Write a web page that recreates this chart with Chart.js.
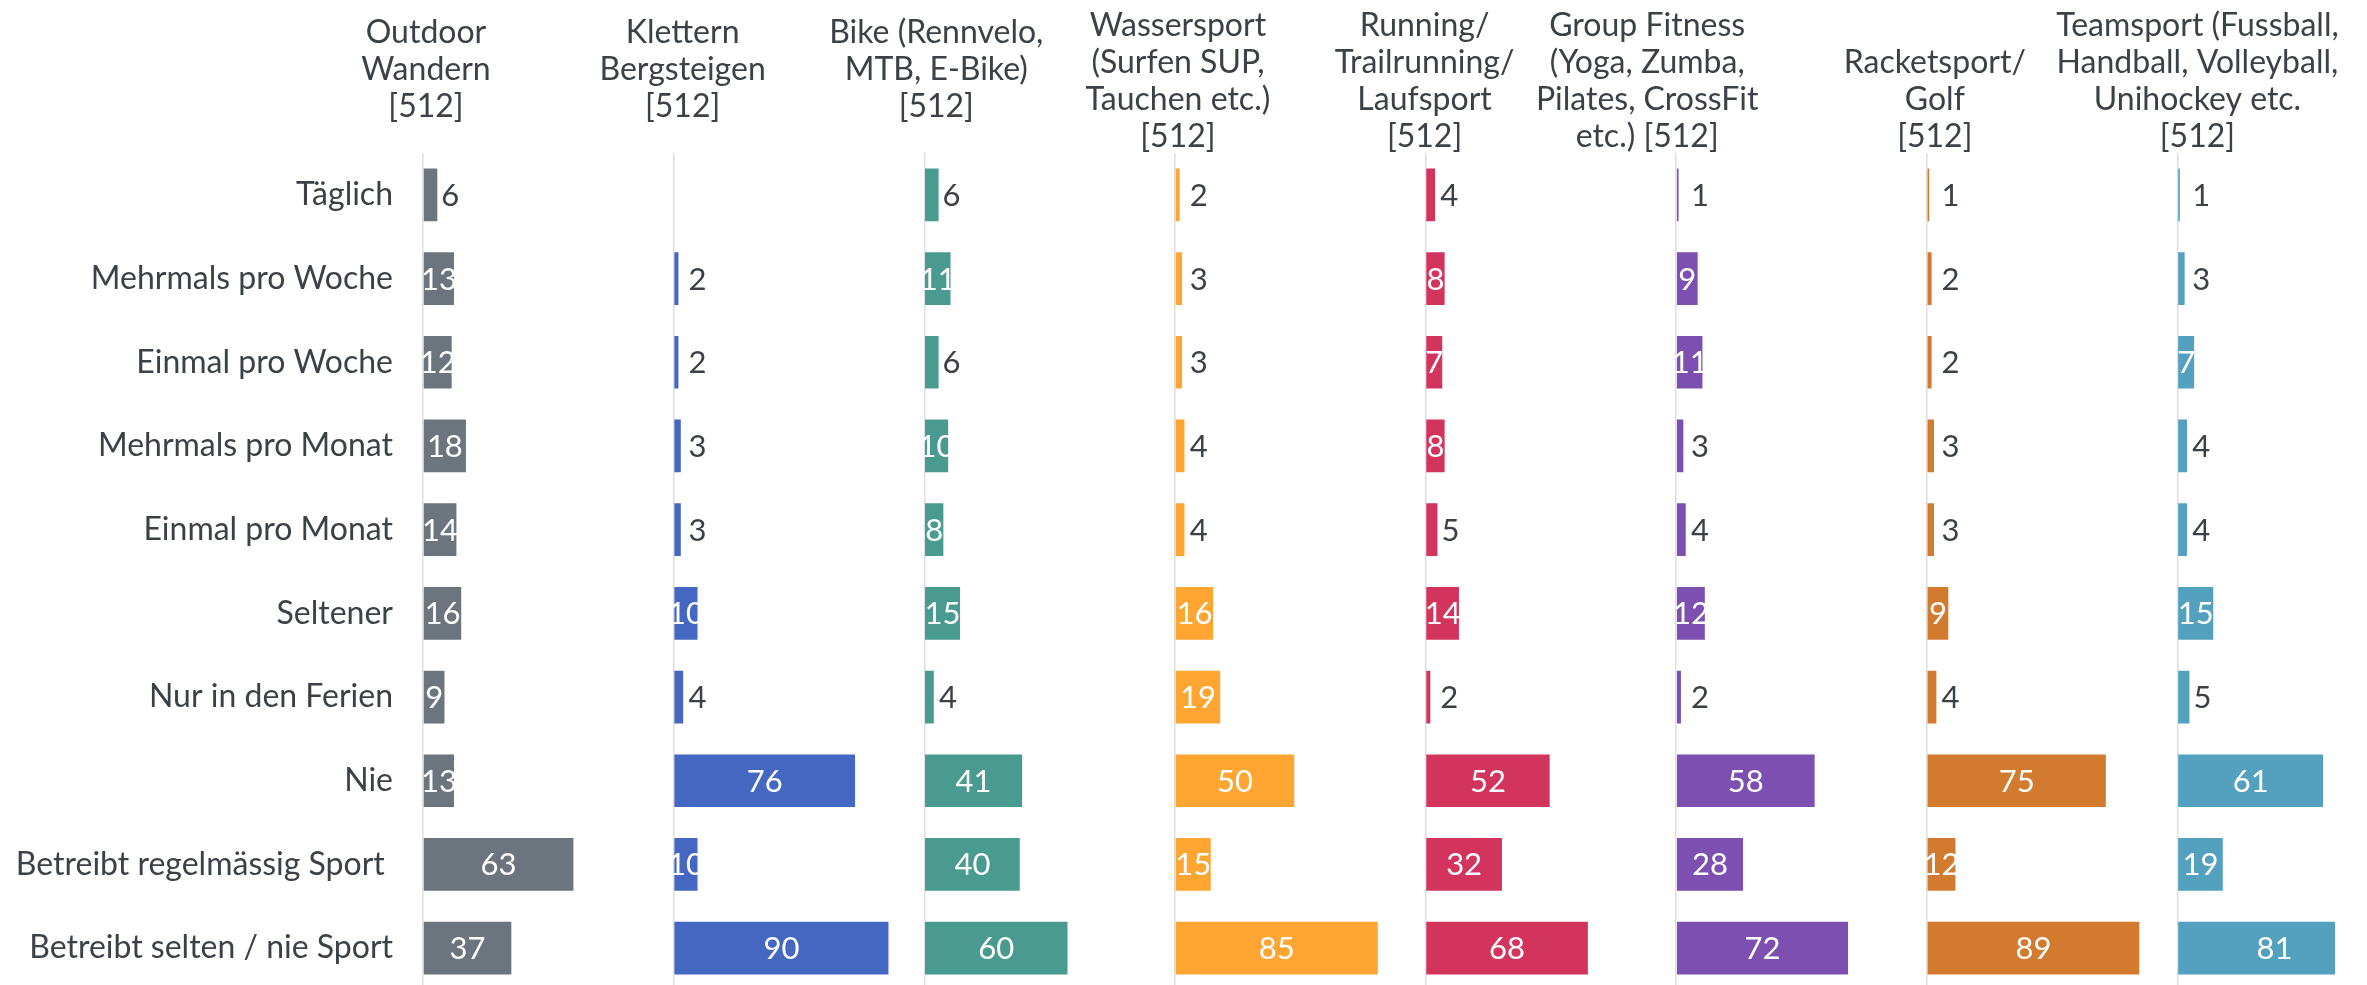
<!DOCTYPE html>
<html>
<head>
<meta charset="utf-8">
<title>Sportarten Häufigkeit</title>
<script src="https://cdn.jsdelivr.net/npm/chart.js@4/dist/chart.umd.min.js"></script>
<style>
  html, body { margin:0; padding:0; background:#fff; overflow:hidden; }
  #wrap { width:2367px; height:992px; }
</style>
</head>
<body>
<div id="wrap"><canvas id="chart" width="2367" height="992"></canvas></div>
<script>
// Data
const categories = ["Täglich","Mehrmals pro Woche","Einmal pro Woche","Mehrmals pro Monat","Einmal pro Monat","Seltener","Nur in den Ferien","Nie","Betreibt regelmässig Sport ","Betreibt selten / nie Sport"];
const panelHeaders = [
  ["Outdoor","Wandern","[512]"],
  ["Klettern","Bergsteigen","[512]"],
  ["Bike (Rennvelo,","MTB, E-Bike)","[512]"],
  ["Wassersport","(Surfen SUP,","Tauchen etc.)","[512]"],
  ["Running/","Trailrunning/","Laufsport","[512]"],
  ["Group Fitness","(Yoga, Zumba,","Pilates, CrossFit","etc.) [512]"],
  ["Racketsport/","Golf","[512]"],
  ["Teamsport (Fussball,","Handball, Volleyball,","Unihockey etc.","[512]"]
];
const outdoor    = [6,13,12,18,14,16,9,13,63,37];
const klettern   = [null,2,2,3,3,10,4,76,10,90];
const bike       = [6,11,6,10,8,15,4,41,40,60];
const wassersport= [2,3,3,4,4,16,19,50,15,85];
const running    = [4,8,7,8,5,14,2,52,32,68];
const groupFit   = [1,9,11,3,4,12,2,58,28,72];
const racket     = [1,2,2,3,3,9,4,75,12,89];
const teamsport  = [1,3,7,4,4,15,5,61,19,81];
const axisMax    = [105,105,105,105,105,105,105,66];

const seriesValues = [outdoor, klettern, bike, wassersport, running, groupFit, racket, teamsport];
const colors = ["#6c757d","#4467c1","#4a9b8f","#ffa532","#d3345e","#7c4fb1","#d27b2f","#53a0bf"];

const FONT = "Lato";
const FSIZE = 32;
const TEXT = "#3c4147";

// Scales: one x axis per panel, stacked side by side
const scales = {};
seriesValues.forEach((v,i)=>{
  scales["x"+i] = {
    type:"linear", position:"bottom", stack:"panels", stackWeight: axisMax[i],
    min:0, max:axisMax[i],
    ticks:{ display:false, stepSize: axisMax[i] },
    border:{ display:false },
    grid:{ drawTicks:false, lineWidth:1.5, color:(c)=> c.tick && c.tick.value===0 ? "#dedede" : "rgba(0,0,0,0)" }
  };
});
scales.y = {
  type:"category", labels:categories, position:"left",
  grid:{ display:false, drawTicks:false }, border:{ display:false },
  ticks:{ color:TEXT, font:{ family:FONT, size:FSIZE }, padding:30 },
  afterFit:(s)=>{ s.width = 423; s.paddingTop = 0; s.paddingBottom = 0; }
};

const datasets = seriesValues.map((v,i)=>({
  label: panelHeaders[i].join(" "),
  data: v, xAxisID:"x"+i, yAxisID:"y",
  backgroundColor: colors[i], grouped:false,
  categoryPercentage:0.7, barPercentage:0.9
}));

// value labels: white inside wide bars, dark next to narrow ones
const valueLabels = {
  id:"valueLabels",
  afterDatasetsDraw(chart){
    const ctx = chart.ctx;
    ctx.save();
    ctx.font = (FSIZE-1) + "px " + FONT;
    ctx.textBaseline = "middle";
    chart.data.datasets.forEach((ds,i)=>{
      const meta = chart.getDatasetMeta(i);
      meta.data.forEach((bar,j)=>{
        const v = ds.data[j];
        if (v===null || v===undefined) return;
        const w = bar.x - bar.base;
        if (w >= 14.5){
          ctx.fillStyle = "#fff"; ctx.textAlign = "center";
          ctx.fillText(String(v), (bar.x+bar.base)/2, bar.y+1);
        } else {
          ctx.fillStyle = TEXT; ctx.textAlign = "left";
          ctx.fillText(String(v), Math.max(bar.x+4, bar.base+14), bar.y+1);
        }
      });
    });
    ctx.restore();
  }
};

// panel headers above each axis
const panelTitles = {
  id:"panelTitles",
  afterDraw(chart, args, opts){
    const ctx = chart.ctx;
    ctx.save();
    ctx.font = FSIZE + "px " + FONT;
    ctx.fillStyle = TEXT;
    ctx.textAlign = "center";
    ctx.textBaseline = "middle";
    panelHeaders.forEach((lines,i)=>{
      const x = chart.scales["x"+i].getPixelForValue(0) + opts.dx[i];
      const top = opts.top + opts.startRow[i]*opts.lineH;
      lines.forEach((t,k)=> ctx.fillText(t, x, top + k*opts.lineH));
    });
    ctx.restore();
  }
};

new Chart(document.getElementById("chart").getContext("2d"), {
  type:"bar",
  data:{ labels:categories, datasets },
  options:{
    indexAxis:"y", responsive:false, animation:false,
    layout:{ padding:{ top:153, bottom:2, left:0, right:32 } },
    scales,
    plugins:{
      legend:{ display:false }, tooltip:{ enabled:false },
      panelTitles:{ top:26, lineH:37, dx:[3,9,12,3,-1,-29,8,20], startRow:[0.18,0.18,0.18,0,0,0,1,0] }
    }
  },
  plugins:[valueLabels, panelTitles]
});
</script>
</body>
</html>
